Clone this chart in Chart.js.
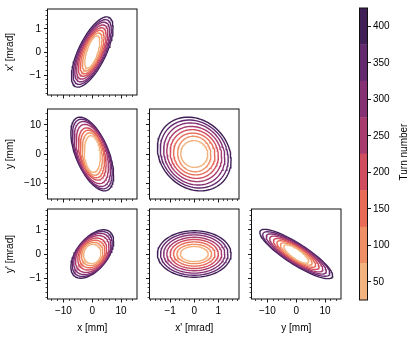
<!DOCTYPE html>
<html>
<head>
<meta charset="utf-8">
<script src="https://cdn.jsdelivr.net/npm/chart.js@4.4.0/dist/chart.umd.min.js"></script>
<style>
  html, body { margin: 0; padding: 0; background: #fff; }
  #fig { position: relative; width: 415px; height: 340px; }
  #fig canvas { position: absolute; left: 0; top: 0; }
</style>
</head>
<body>
<div id="fig"></div>
<script>
// turn numbers, colour bands
const turnNumbers = [50, 100, 150, 200, 250, 300, 350, 400]
const bandEdges = [25, 75, 125, 175, 225, 275, 325, 375, 425]
const turnColors = ['#f3b37f', '#ef8f66', '#e86b58', '#cf4d5f', '#a93c6e', '#853174', '#632a70', '#402057']

// tick labels
const mmTicks = [-10, 0, 10]
const mmMinor = [-14, -12, -8, -6, -4, -2, 2, 4, 6, 8, 12, 14]
const mradTicks = [-1, 0, 1]
const mradMinor = [-1.8, -1.6, -1.4, -1.2, -0.8, -0.6, -0.4, -0.2, 0.2, 0.4, 0.6, 0.8, 1.2, 1.4, 1.6, 1.8]
const colorbarTicks = [50, 100, 150, 200, 250, 300, 350, 400]
const mmLimit = 15.5
const mradLimit = 1.86

// contour half-extents (horizontal, vertical) and correlation, one per turn number
// x - x'
const aRx = [2.6, 3.4, 4.1, 4.8, 5.4, 6.0, 6.6, 7.2]
const aRy = [0.70, 0.82, 0.94, 1.05, 1.17, 1.29, 1.40, 1.52]
const aRho = [0.64, 0.65, 0.66, 0.67, 0.68, 0.68, 0.69, 0.69]
// x - y
const bRx = [2.8, 3.5, 4.2, 4.8, 5.6, 6.3, 6.9, 7.4]
const bRy = [6.3, 7.3, 8.2, 9.0, 10.2, 11.2, 12.0, 12.7]
const bRho = [-0.15, -0.25, -0.33, -0.4, -0.45, -0.5, -0.54, -0.57]
// x' - y
const cRx = [0.56, 0.69, 0.86, 1.0, 1.14, 1.27, 1.41, 1.53]
const cRy = [4.6, 6.1, 7.2, 8.4, 9.5, 10.7, 11.7, 12.7]
const cRho = [-0.03, -0.05, -0.07, -0.09, -0.11, -0.13, -0.15, -0.17]
// x - y'
const dRx = [3.0, 3.7, 4.4, 5.0, 5.8, 6.4, 6.9, 7.4]
const dRy = [0.40, 0.48, 0.57, 0.66, 0.76, 0.85, 0.93, 1.0]
const dRho = [0.08, 0.16, 0.24, 0.31, 0.38, 0.44, 0.49, 0.53]
// x' - y'
const eRx = [0.58, 0.72, 0.86, 1.0, 1.14, 1.27, 1.4, 1.53]
const eRy = [0.31, 0.4, 0.5, 0.6, 0.69, 0.79, 0.88, 0.96]
const eRho = [0, 0, 0, 0, 0, 0, 0, 0]
// y - y'
const fRx = [4.3, 5.5, 6.7, 7.9, 9.2, 10.4, 11.6, 12.6]
const fRy = [0.38, 0.46, 0.55, 0.64, 0.74, 0.83, 0.92, 1.02]
const fRho = [-0.8, -0.82, -0.83, -0.84, -0.85, -0.86, -0.86, -0.87]

Chart.defaults.font.family = '"Liberation Sans", Arial, sans-serif'
Chart.defaults.font.size = 10
Chart.defaults.color = '#000'

const W = 415, H = 340
const colLeft = [47.5, 149.5, 251.5]
const rowTop = [5, 109, 209]
const boxW = 89.5, boxH = 90
const yAxisW = 43, xAxisH = 35

const fig = document.getElementById('fig')
function newCanvas() {
  const c = document.createElement('canvas')
  c.width = W
  c.height = H
  fig.appendChild(c)
  return c
}

const fmt = v => String(v).replace('-', '\u2212')

const framePlugin = {
  id: 'frame',
  afterDraw(chart) {
    const { ctx, chartArea: a } = chart
    ctx.save()
    ctx.strokeStyle = '#111'
    ctx.lineWidth = 1
    ctx.strokeRect(a.left, a.top, a.right - a.left, a.bottom - a.top)
    ctx.restore()
  }
}

function ellipse(rx, ry, rho) {
  const pts = []
  const s = Math.sqrt(1 - rho * rho)
  for (let k = 0; k <= 90; k++) {
    const t = k / 90 * 2 * Math.PI
    pts.push({ x: rx * Math.cos(t), y: ry * (rho * Math.cos(t) + s * Math.sin(t)) })
  }
  return pts
}

function axes(id, kind, pos, labelled, title) {
  const major = kind === 'mm' ? mmTicks : mradTicks
  const minor = kind === 'mm' ? mmMinor : mradMinor
  const lim = kind === 'mm' ? mmLimit : mradLimit
  const horiz = pos === 'bottom'
  const size = horiz ? xAxisH : yAxisW
  return {
    [id]: {
      type: 'linear', position: pos, min: -lim, max: lim, weight: 1,
      afterBuildTicks: s => { s.ticks = major.map(v => ({ value: v })) },
      afterFit: s => { if (horiz) s.height = size; else s.width = size },
      border: { display: false },
      grid: { drawOnChartArea: false, drawTicks: true, tickLength: 3.5, tickWidth: 0.9, tickColor: '#000' },
      ticks: { autoSkip: false, maxRotation: 0, padding: 3, callback: v => labelled ? fmt(v) : '' },
      title: { display: !!title, text: title || '', padding: 0 }
    },
    [id + 'm']: {
      type: 'linear', position: pos, min: -lim, max: lim, weight: 0,
      afterBuildTicks: s => { s.ticks = minor.map(v => ({ value: v })) },
      afterFit: s => { if (horiz) s.height = 0; else s.width = 0 },
      border: { display: false },
      grid: { drawOnChartArea: false, drawTicks: true, tickLength: 2, tickWidth: 0.7, tickColor: '#000' },
      ticks: { autoSkip: false, maxRotation: 0, callback: () => '' }
    }
  }
}

const panels = [
  { col: 0, row: 0, xk: 'mm', yk: 'mrad', xl: false, yl: true, xt: null, yt: "x' [mrad]", rx: aRx, ry: aRy, rho: aRho },
  { col: 0, row: 1, xk: 'mm', yk: 'mm', xl: false, yl: true, xt: null, yt: 'y [mm]', rx: bRx, ry: bRy, rho: bRho },
  { col: 1, row: 1, xk: 'mrad', yk: 'mm', xl: false, yl: false, xt: null, yt: null, rx: cRx, ry: cRy, rho: cRho },
  { col: 0, row: 2, xk: 'mm', yk: 'mrad', xl: true, yl: true, xt: 'x [mm]', yt: "y' [mrad]", rx: dRx, ry: dRy, rho: dRho },
  { col: 1, row: 2, xk: 'mrad', yk: 'mrad', xl: true, yl: false, xt: "x' [mrad]", yt: null, rx: eRx, ry: eRy, rho: eRho },
  { col: 2, row: 2, xk: 'mm', yk: 'mrad', xl: true, yl: false, xt: 'y [mm]', yt: null, rx: fRx, ry: fRy, rho: fRho }
]

panels.forEach(p => {
  const left = colLeft[p.col], top = rowTop[p.row]
  const datasets = turnNumbers.map((turn, i) => ({
    label: 'Turn ' + turn,
    data: ellipse(p.rx[i], p.ry[i], p.rho[i]),
    showLine: true,
    pointRadius: 0,
    borderColor: turnColors[i],
    borderWidth: 1.4,
    fill: false,
    tension: 0
  }))
  new Chart(newCanvas(), {
    type: 'scatter',
    data: { datasets },
    options: {
      responsive: false,
      animation: false,
      events: [],
      layout: {
        padding: {
          left: left - yAxisW,
          top: top,
          right: W - left - boxW,
          bottom: H - top - boxH - xAxisH
        }
      },
      plugins: { legend: { display: false }, tooltip: { enabled: false } },
      scales: {
        ...axes('x', p.xk, 'bottom', p.xl, p.xt),
        ...axes('y', p.yk, 'left', p.yl, p.yt)
      }
    },
    plugins: [framePlugin]
  })
})

// colour bar
const cbLeft = 359.5, cbRight = 367.5, cbTop = 5, cbBottom = 300
const cbLabelPlugin = {
  id: 'cbLabel',
  afterDraw(chart) {
    const ctx = chart.ctx
    ctx.save()
    ctx.translate(404, 152)
    ctx.rotate(-Math.PI / 2)
    ctx.font = '10px "Liberation Sans", Arial, sans-serif'
    ctx.fillStyle = '#000'
    ctx.textAlign = 'center'
    ctx.textBaseline = 'middle'
    ctx.fillText('Turn number', 0, 0)
    ctx.restore()
  }
}
new Chart(newCanvas(), {
  type: 'bar',
  data: {
    labels: [''],
    datasets: turnNumbers.map((turn, i) => ({
      label: 'Turn ' + turn,
      data: [[bandEdges[i], bandEdges[i + 1]]],
      backgroundColor: turnColors[i],
      borderWidth: 0,
      grouped: false,
      barPercentage: 1,
      categoryPercentage: 1
    }))
  },
  options: {
    responsive: false,
    animation: false,
    events: [],
    layout: { padding: { left: cbLeft, top: cbTop, right: W - cbRight - 40, bottom: H - cbBottom } },
    plugins: { legend: { display: false }, tooltip: { enabled: false } },
    scales: {
      x: { display: false },
      y: {
        position: 'right', min: 25, max: 425,
        afterBuildTicks: s => { s.ticks = colorbarTicks.map(v => ({ value: v })) },
        afterFit: s => { s.width = 40 },
        border: { display: false },
        grid: { drawOnChartArea: false, drawTicks: true, tickLength: 3.5, tickWidth: 0.9, tickColor: '#000' },
        ticks: { autoSkip: false, padding: 2 }
      }
    }
  },
  plugins: [framePlugin, cbLabelPlugin]
})
</script>
</body>
</html>
